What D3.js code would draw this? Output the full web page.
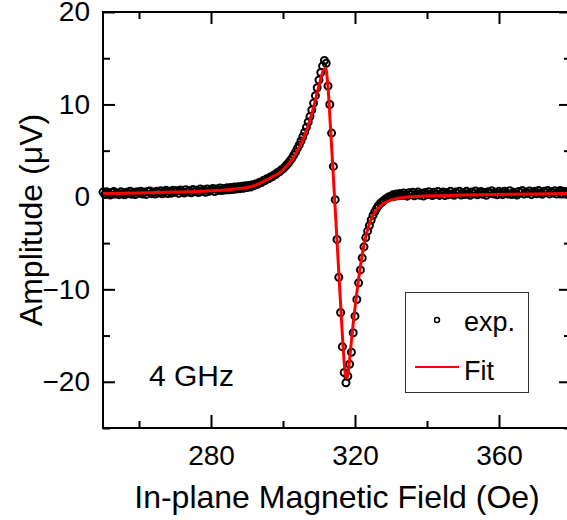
<!DOCTYPE html>
<html>
<head>
<meta charset="utf-8">
<script src="https://cdn.jsdelivr.net/npm/d3@7"></script>
<style>
    body { margin: 0; background: #fff; }
    text { font-family: "Liberation Sans", Arial, sans-serif; fill: #000; }
</style>
</head>
<body>
<svg width="567" height="520"></svg>
<script>
// experimental points (Oe, uV)
var expField = [250, 250.5, 251, 251.5, 252, 252.5, 253, 253.5, 254, 254.5, 255, 255.5, 256, 256.5, 257, 257.5, 258, 258.5, 259, 259.5,
    260, 260.5, 261, 261.5, 262, 262.5, 263, 263.5, 264, 264.5, 265, 265.5, 266, 266.5, 267, 267.5, 268, 268.5, 269, 269.5,
    270, 270.5, 271, 271.5, 272, 272.5, 273, 273.5, 274, 274.5, 275, 275.5, 276, 276.5, 277, 277.5, 278, 278.5, 279, 279.5,
    280, 280.5, 281, 281.5, 282, 282.5, 283, 283.5, 284, 284.5, 285, 285.5, 286, 286.5, 287, 287.5, 288, 288.5, 289, 289.5,
    290, 290.5, 291, 291.5, 292, 292.5, 293, 293.5, 294, 294.5, 295, 295.5, 296, 296.5, 297, 297.5, 298, 298.5, 299, 299.5,
    300, 300.5, 301, 301.5, 302, 302.5, 303, 303.5, 304, 304.5, 305, 305.5, 306, 306.5, 307, 307.5, 308, 308.5, 309, 309.5,
    310, 310.5, 311, 311.5, 312, 312.5, 313, 313.5, 314, 314.5, 315, 315.5, 316, 316.5, 317, 317.5, 318, 318.5, 319, 319.5,
    320, 320.5, 321, 321.5, 322, 322.5, 323, 323.5, 324, 324.5, 325, 325.5, 326, 326.5, 327, 327.5, 328, 328.5, 329, 329.5,
    330, 330.5, 331, 331.5, 332, 332.5, 333, 333.5, 334, 334.5, 335, 335.5, 336, 336.5, 337, 337.5, 338, 338.5, 339, 339.5,
    340, 340.5, 341, 341.5, 342, 342.5, 343, 343.5, 344, 344.5, 345, 345.5, 346, 346.5, 347, 347.5, 348, 348.5, 349, 349.5,
    350, 350.5, 351, 351.5, 352, 352.5, 353, 353.5, 354, 354.5, 355, 355.5, 356, 356.5, 357, 357.5, 358, 358.5, 359, 359.5,
    360, 360.5, 361, 361.5, 362, 362.5, 363, 363.5, 364, 364.5, 365, 365.5, 366, 366.5, 367, 367.5, 368, 368.5, 369, 369.5,
    370, 370.5, 371, 371.5, 372, 372.5, 373, 373.5, 374, 374.5, 375, 375.5, 376, 376.5, 377, 377.5, 378, 378.5, 379, 379.5, 380];

var expAmp = [0.52, 0.26, 0.56, 0.38, 0.20, 0.47, 0.59, 0.30, 0.42, 0.24, 0.55, 0.37, 0.22, 0.51, 0.35, 0.61, 0.29, 0.49, 0.26, 0.56,
    0.40, 0.60, 0.31, 0.53, 0.27, 0.58, 0.64, 0.35, 0.52, 0.30, 0.62, 0.41, 0.67, 0.33, 0.55, 0.71, 0.37, 0.60, 0.40, 0.73,
    0.50, 0.66, 0.38, 0.75, 0.56, 0.41, 0.77, 0.52, 0.68, 0.44, 0.80, 0.55, 0.72, 0.47, 0.84, 0.58, 0.76, 0.50, 0.86, 0.60,
    0.74, 0.92, 0.58, 0.84, 0.70, 0.96, 0.68, 0.90, 0.74, 1.00, 0.76, 1.02, 0.80, 1.06, 0.85, 1.10, 0.88, 1.16, 0.94, 1.20,
    1.02, 1.24, 1.06, 1.32, 1.22, 1.42, 1.38, 1.58, 1.56, 1.76, 1.76, 1.96, 1.95, 2.16, 2.18, 2.38, 2.42, 2.64, 2.70, 2.92,
    3.05, 3.22, 3.45, 3.66, 3.92, 4.20, 4.52, 4.85, 5.25, 5.62, 6.05, 6.50, 7.00, 7.52, 8.10, 8.70, 9.40, 10.15, 10.95, 11.80,
    12.65, 13.45, 14.15, 14.75, 14.45, 12.0, 10.0, 6.9, 3.3, -0.3, -4.6, -8.7, -12.5, -16.2, -19.0, -20.1, -19.4, -18.1, -16.8, -14.7,
    -12.9, -11.1, -9.3, -7.9, -6.6, -5.4, -4.4, -3.7, -3.1, -2.5, -2.0, -1.6, -1.25, -0.95, -0.72, -0.55, -0.38, -0.22, -0.10, 0.02,
    0.08, 0.22, 0.05, 0.30, 0.12, 0.36, 0.14, 0.42, 0.20, 0.08, 0.44, 0.22, 0.50, 0.12, 0.32, 0.52, 0.18, 0.40, 0.10, 0.48,
    0.24, 0.56, 0.28, 0.14, 0.50, 0.26, 0.58, 0.16, 0.38, 0.52, 0.14, 0.46, 0.24, 0.60, 0.32, 0.18, 0.54, 0.34, 0.62, 0.20,
    0.44, 0.26, 0.60, 0.36, 0.18, 0.54, 0.34, 0.64, 0.22, 0.46, 0.58, 0.28, 0.48, 0.18, 0.56, 0.38, 0.66, 0.30, 0.50, 0.22,
    0.60, 0.40, 0.24, 0.62, 0.44, 0.30, 0.66, 0.26, 0.50, 0.36, 0.20, 0.58, 0.44, 0.68, 0.30, 0.54, 0.38, 0.64, 0.24, 0.50,
    0.62, 0.34, 0.68, 0.42, 0.28, 0.60, 0.46, 0.70, 0.32, 0.56, 0.42, 0.66, 0.30, 0.54, 0.68, 0.36, 0.62, 0.46, 0.30, 0.64, 0.46];

// fitted curve
var fitField = [250, 260, 270, 278, 284, 288, 291, 293, 295, 297, 299, 300.5, 302, 303, 304, 305, 306, 307, 308, 308.5,
    309, 309.5, 310, 310.5, 311, 311.5, 311.8, 312.1, 312.4, 312.7, 313, 313.5, 314, 314.5, 315, 315.5, 316, 316.5, 317, 317.3,
    317.6, 317.9, 318.2, 318.6, 319, 319.5, 320, 320.5, 321, 321.5, 322, 322.5, 323, 323.5, 324, 325, 326, 327, 328, 330,
    333, 337, 342, 350, 360, 370, 380];
var fitAmp = [0.38, 0.43, 0.52, 0.62, 0.75, 0.9, 1.1, 1.38, 1.75, 2.15, 2.6, 3.1, 3.75, 4.3, 5.0, 5.7, 6.6, 7.7, 9.0, 9.7,
    10.5, 11.3, 12.0, 12.8, 13.45, 13.85, 13.95, 13.5, 12.3, 10.8, 8.8, 5.5, 2.1, -1.3, -4.7, -8.2, -11.6, -15.0, -17.9, -19.1,
    -19.6, -19.4, -18.7, -17.2, -15.6, -13.7, -12.0, -10.4, -8.9, -7.5, -6.3, -5.2, -4.3, -3.55, -2.9, -2.0, -1.4, -1.0, -0.7, -0.35,
    -0.1, 0.05, 0.13, 0.2, 0.27, 0.32, 0.36];

var xMajorTicks = [280, 320, 360];
var xMinorTicks = [260, 300, 340, 380];
var yMajorTicks = [-20, -10, 0, 10, 20];
var yMinorTicks = [-25, -15, -5, 5, 15];

var svg = d3.select("svg"),
    plotLeft = 103, plotRight = 571, plotTop = 12, plotBottom = 428;

var xScale = d3.scaleLinear().domain([250, 380]).range([plotLeft, plotRight]),
    yScale = d3.scaleLinear().domain([-25, 20]).range([plotBottom, plotTop]);

// axes, ticks pointing inward
function styleAxis(g) {
    g.select(".domain").remove();
    g.selectAll(".tick line").attr("stroke", "#000").attr("stroke-width", 2);
    g.selectAll(".tick text").attr("font-size", "28px").attr("fill", "#000")
        .style("font-family", "'Liberation Sans', Arial, sans-serif");
}

svg.append("g")
    .attr("transform", "translate(0," + plotBottom + ")")
    .call(d3.axisBottom(xScale).tickValues(xMajorTicks).tickSize(-13).tickPadding(17).tickFormat(d3.format("d")))
    .call(styleAxis);
svg.append("g")
    .attr("transform", "translate(0," + plotBottom + ")")
    .call(d3.axisBottom(xScale).tickValues(xMinorTicks).tickSize(-7).tickFormat(""))
    .call(styleAxis);
svg.append("g")
    .attr("transform", "translate(0," + plotTop + ")")
    .call(d3.axisTop(xScale).tickValues(xMajorTicks).tickSize(-12).tickFormat(""))
    .call(styleAxis);
svg.append("g")
    .attr("transform", "translate(0," + plotTop + ")")
    .call(d3.axisTop(xScale).tickValues(xMinorTicks).tickSize(-7).tickFormat(""))
    .call(styleAxis);

svg.append("g")
    .attr("transform", "translate(" + plotLeft + ",0)")
    .call(d3.axisLeft(yScale).tickValues(yMajorTicks).tickSize(-12).tickPadding(13).tickFormat(d3.format("d")))
    .call(styleAxis);
svg.append("g")
    .attr("transform", "translate(" + plotLeft + ",0)")
    .call(d3.axisLeft(yScale).tickValues(yMinorTicks).tickSize(-7).tickFormat(""))
    .call(styleAxis);
svg.append("g")
    .attr("transform", "translate(" + plotRight + ",0)")
    .call(d3.axisRight(yScale).tickValues(yMajorTicks).tickSize(-12).tickFormat(""))
    .call(styleAxis);
svg.append("g")
    .attr("transform", "translate(" + plotRight + ",0)")
    .call(d3.axisRight(yScale).tickValues(yMinorTicks).tickSize(-7).tickFormat(""))
    .call(styleAxis);

svg.append("rect")
    .attr("x", plotLeft).attr("y", plotTop)
    .attr("width", plotRight - plotLeft).attr("height", plotBottom - plotTop)
    .attr("fill", "none").attr("stroke", "#000").attr("stroke-width", 2);

// data
var expData = expField.map(function (f, i) { return { field: f, amp: expAmp[i] }; });
var fitData = fitField.map(function (f, i) { return { field: f, amp: fitAmp[i] }; });

svg.append("g").selectAll("circle")
    .data(expData)
    .enter().append("circle")
    .attr("cx", function (d) { return xScale(d.field); })
    .attr("cy", function (d) { return yScale(d.amp); })
    .attr("r", 3.5)
    .attr("fill", "none")
    .attr("stroke", "#000")
    .attr("stroke-width", 2);

var line = d3.line()
    .x(function (d) { return xScale(d.field); })
    .y(function (d) { return yScale(d.amp); })
    .curve(d3.curveMonotoneX);

svg.append("path")
    .datum(fitData)
    .attr("d", line)
    .attr("fill", "none")
    .attr("stroke", "#ff0000")
    .attr("stroke-width", 3);

// labels
svg.append("text")
    .attr("x", (plotLeft + plotRight) / 2)
    .attr("y", 508)
    .attr("text-anchor", "middle")
    .attr("font-size", "32px")
    .text("In-plane Magnetic Field (Oe)");

svg.append("text")
    .attr("transform", "rotate(-90)")
    .attr("x", -(plotTop + plotBottom) / 2)
    .attr("y", 42)
    .attr("text-anchor", "middle")
    .attr("font-size", "32px")
    .text("Amplitude (μV)");

svg.append("text")
    .attr("x", 149)
    .attr("y", 386)
    .attr("font-size", "30px")
    .text("4 GHz");

// legend
var legend = svg.append("g");
legend.append("rect")
    .attr("x", 405.5).attr("y", 292.5)
    .attr("width", 123).attr("height", 100)
    .attr("fill", "#fff").attr("stroke", "#333").attr("stroke-width", 1);
legend.append("circle")
    .attr("cx", 437).attr("cy", 320).attr("r", 2.5)
    .attr("fill", "none").attr("stroke", "#000").attr("stroke-width", 1.5);
legend.append("text")
    .attr("x", 464).attr("y", 331)
    .attr("font-size", "27px")
    .text("exp.");
legend.append("line")
    .attr("x1", 415).attr("x2", 459)
    .attr("y1", 367).attr("y2", 367)
    .attr("stroke", "#ff0000").attr("stroke-width", 2);
legend.append("text")
    .attr("x", 464).attr("y", 380)
    .attr("font-size", "27px")
    .text("Fit");
</script>
</body>
</html>
